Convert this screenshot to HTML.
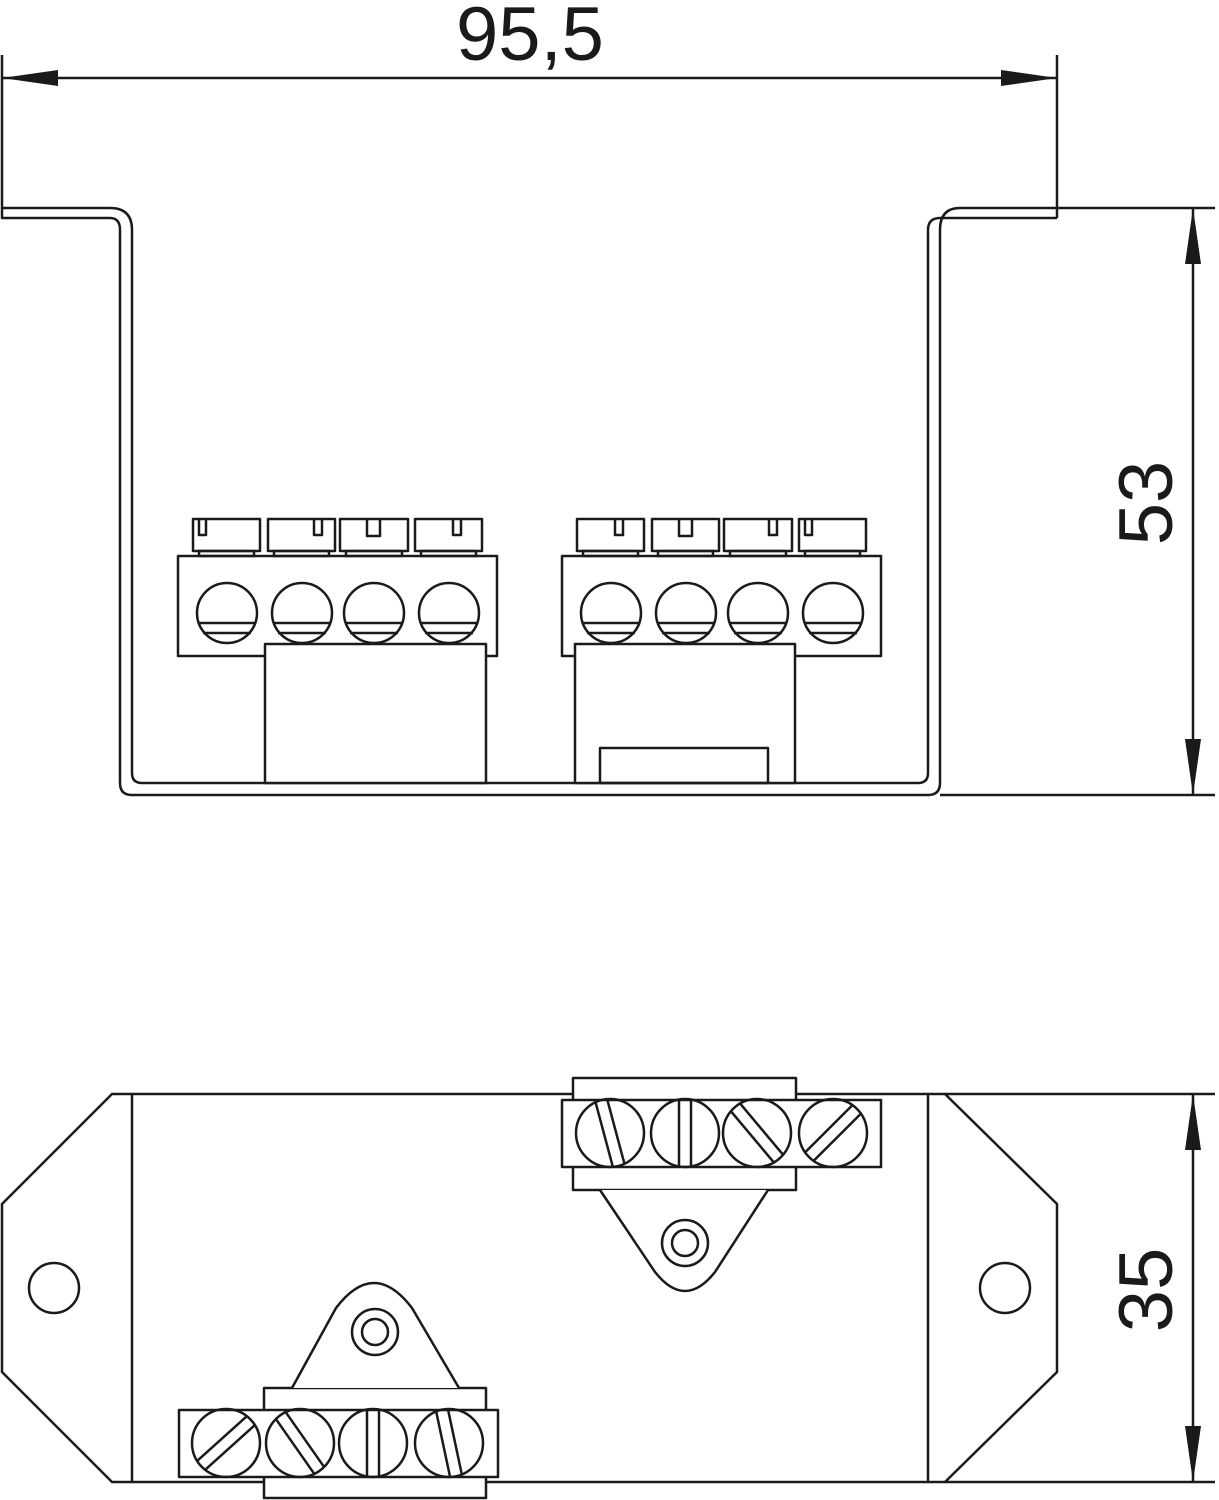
<!DOCTYPE html>
<html><head><meta charset="utf-8"><style>
html,body{margin:0;padding:0;background:#fff;}
svg{display:block;}
text{font-family:"Liberation Sans",sans-serif;fill:#1a1a1a;}
</style></head><body>
<svg width="1219" height="1500" viewBox="0 0 1219 1500" xmlns="http://www.w3.org/2000/svg">
<g fill="none" stroke="#1a1a1a" stroke-width="2.5" stroke-linejoin="round">
<!-- dimension 95,5 -->
<line x1="2" y1="55" x2="2" y2="208"/>
<line x1="1057" y1="55" x2="1057" y2="208"/>
<line x1="2" y1="78" x2="1057" y2="78"/>
<!-- dimension 53 -->
<line x1="1057" y1="208" x2="1215" y2="208"/>
<line x1="940" y1="795" x2="1215" y2="795"/>
<line x1="1193" y1="208" x2="1193" y2="795"/>
<!-- dimension 35 -->
<line x1="945" y1="1094" x2="1215" y2="1094"/>
<line x1="945" y1="1482" x2="1215" y2="1482"/>
<line x1="1193" y1="1094" x2="1193" y2="1482"/>

<!-- top view channel -->
<path d="M2 208 H110 Q132 208 132 230 V773 Q132 783 142 783 H918 Q928 783 928 773 V230 Q928 218 940 218 H1057"/>
<path d="M2 208 V218 H110 Q120 218 120 230 V783 Q120 795 132 795 H928 Q940 795 940 783 V230 Q940 208 960 208 H1057 V218"/>

<!-- left top block -->
<g id="tb">
<rect x="193" y="519" width="67" height="32"/><rect x="199" y="551" width="55" height="5"/>
<path d="M199 519 V535 H206 V519"/>
<rect x="268" y="519" width="67" height="32"/><rect x="274" y="551" width="55" height="5"/>
<path d="M314 519 V535 H322 V519"/>
<rect x="340" y="519" width="68" height="32"/><rect x="346" y="551" width="56" height="5"/>
<path d="M367 519 V536 H380 V519"/>
<rect x="415" y="519" width="67" height="32"/><rect x="421" y="551" width="55" height="5"/>
<path d="M453 519 V535 H461 V519"/>
<rect x="178" y="556" width="319" height="100"/>
<g>
<circle cx="227" cy="613" r="30"/><path d="M198 623 H256 M203 633 H251"/>
<circle cx="302" cy="613" r="30"/><path d="M273 623 H331 M278 633 H326"/>
<circle cx="374" cy="613" r="30"/><path d="M345 623 H403 M350 633 H398"/>
<circle cx="449" cy="613" r="30"/><path d="M420 623 H478 M425 633 H473"/>
</g>
<rect x="265" y="644" width="221" height="139" fill="#fff"/>
</g>
<!-- right top block -->
<g transform="translate(384,0)">
<rect x="193" y="519" width="67" height="32"/><rect x="199" y="551" width="55" height="5"/>
<path d="M231 519 V535 H239 V519"/>
<rect x="268" y="519" width="67" height="32"/><rect x="274" y="551" width="55" height="5"/>
<path d="M295 519 V536 H308 V519"/>
<rect x="340" y="519" width="68" height="32"/><rect x="346" y="551" width="56" height="5"/>
<path d="M385 519 V535 H393 V519"/>
<rect x="415" y="519" width="67" height="32"/><rect x="421" y="551" width="55" height="5"/>
<path d="M421 519 V535 H428 V519"/>
<rect x="178" y="556" width="319" height="100"/>
<circle cx="227" cy="613" r="30"/><path d="M198 623 H256 M203 633 H251"/>
<circle cx="302" cy="613" r="30"/><path d="M273 623 H331 M278 633 H326"/>
<circle cx="374" cy="613" r="30"/><path d="M345 623 H403 M350 633 H398"/>
<circle cx="449" cy="613" r="30"/><path d="M420 623 H478 M425 633 H473"/>
</g>
<rect x="575" y="644" width="220" height="139" fill="#fff"/>
<rect x="600" y="748" width="168" height="35"/>

<!-- bottom view -->
<path d="M112 1094 L2 1204 V1372 L112 1482 H945 L1057 1372 V1204 L945 1094 Z"/>
<line x1="132" y1="1094" x2="132" y2="1482"/>
<line x1="928" y1="1094" x2="928" y2="1482"/>
<circle cx="54" cy="1288" r="25"/>
<circle cx="1005" cy="1288" r="25"/>

<!-- upper terminal (bottom view) -->
<rect x="573" y="1078" width="223" height="112" fill="#fff"/>
<path d="M600 1190 L655 1272 Q685 1310 715 1272 L768 1190" fill="#fff"/>
<circle cx="685" cy="1243" r="23"/><circle cx="685" cy="1243" r="13"/>
<rect x="562" y="1100" width="319" height="67" fill="#fff"/>
<g>
<circle cx="610" cy="1133" r="34"/>
<g transform="rotate(-15 610 1133)"><path d="M604 1099 V1167 M616 1099 V1167"/></g>
<circle cx="685" cy="1133" r="34"/>
<path d="M679 1099 V1167 M691 1099 V1167"/>
<circle cx="757" cy="1133" r="34"/>
<g transform="rotate(-40 757 1133)"><path d="M751 1099 V1167 M763 1099 V1167"/></g>
<circle cx="833" cy="1133" r="34"/>
<g transform="rotate(45 833 1133)"><path d="M827 1099 V1167 M839 1099 V1167"/></g>
</g>

<!-- lower terminal -->
<rect x="264" y="1388" width="222" height="110" fill="#fff"/>
<path d="M292 1388 L336 1308 Q374 1258 412 1308 L459 1388" fill="#fff"/>
<circle cx="375" cy="1332" r="23"/><circle cx="375" cy="1332" r="13"/>
<rect x="179" y="1410" width="319" height="67" fill="#fff"/>
<circle cx="226" cy="1443" r="34"/>
<g transform="rotate(48 226 1443)"><path d="M220 1409 V1477 M232 1409 V1477"/></g>
<circle cx="300" cy="1443" r="34"/>
<g transform="rotate(-35 300 1443)"><path d="M294 1409 V1477 M306 1409 V1477"/></g>
<circle cx="373" cy="1443" r="34"/>
<path d="M367 1409 V1477 M379 1409 V1477"/>
<circle cx="449" cy="1443" r="34"/>
<g transform="rotate(-12 449 1443)"><path d="M443 1409 V1477 M455 1409 V1477"/></g>
</g>

<!-- arrowheads -->
<g fill="#1a1a1a">
<path d="M2 78 L58 70 L58 86 Z"/>
<path d="M1057 78 L1001 70 L1001 86 Z"/>
<path d="M1193 208 L1185 264 L1201 264 Z"/>
<path d="M1193 795 L1185 739 L1201 739 Z"/>
<path d="M1193 1094 L1185 1150 L1201 1150 Z"/>
<path d="M1193 1482 L1185 1426 L1201 1426 Z"/>
</g>
<text x="530" y="60" font-size="76" text-anchor="middle">95,5</text>
<text transform="translate(1172,503) rotate(-90)" font-size="76" text-anchor="middle">53</text>
<text transform="translate(1172,1290) rotate(-90)" font-size="76" text-anchor="middle">35</text>
</svg>
</body></html>
